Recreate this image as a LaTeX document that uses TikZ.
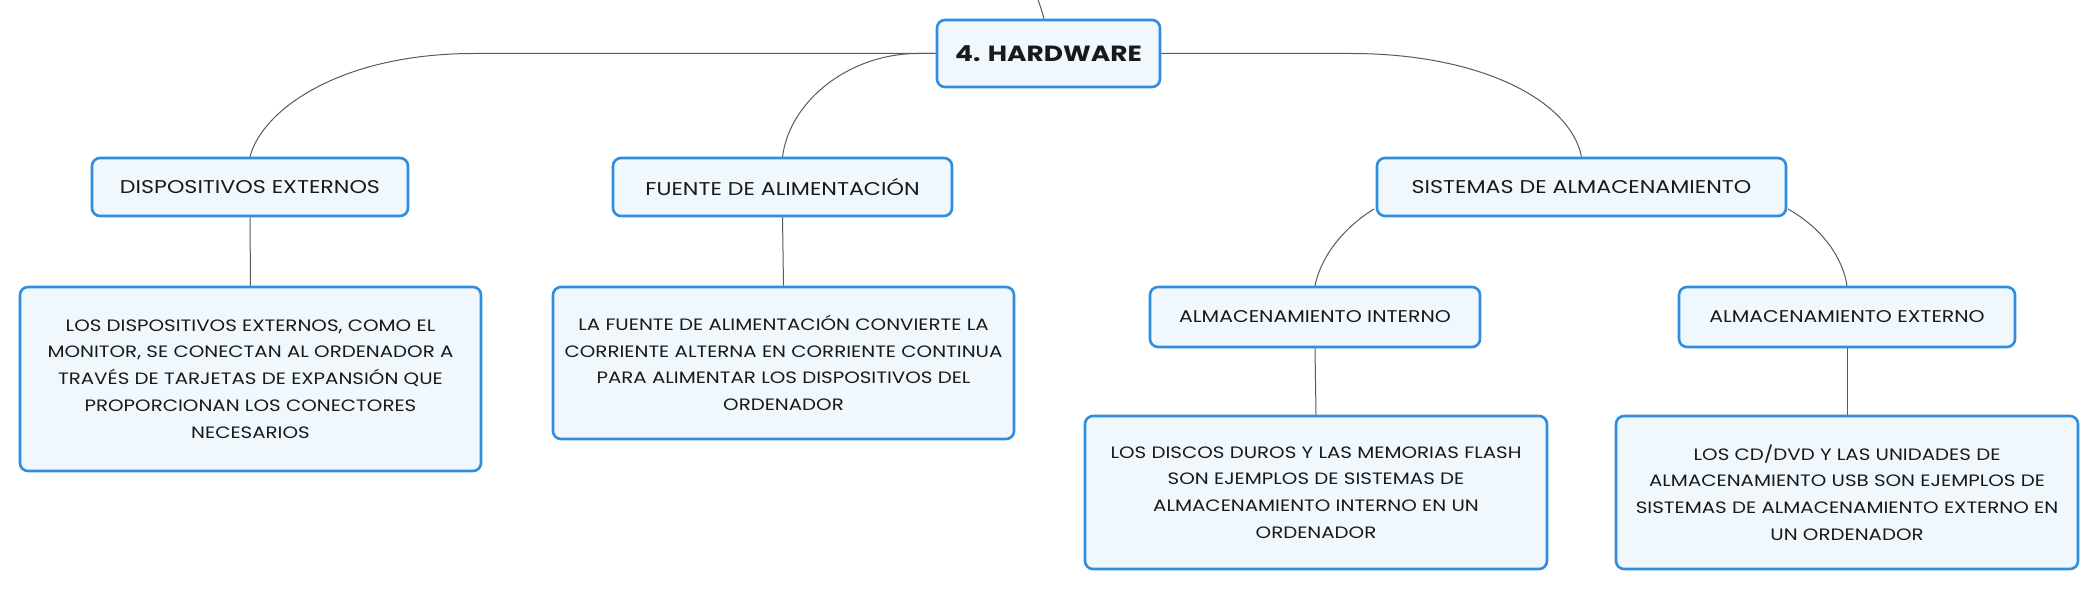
\documentclass[tikz,border=0pt]{standalone}
\usepackage{fontspec}
\setmainfont{Poppins}[FakeStretch=1.2]
\definecolor{bord}{HTML}{2F8EDD}
\definecolor{fillc}{HTML}{F0F8FE}
\definecolor{lnc}{HTML}{5A5A5A}
\begin{document}
\begin{tikzpicture}[x=1pt,y=-1pt,
  box/.style={draw=bord,fill=fillc,line width=2.6pt,rounded corners=8pt,inner sep=0pt,align=center,text=black!90},
  conn/.style={draw=lnc,line width=1pt}]
\useasboundingbox (0,0) rectangle (2100,591);
\fill[white] (0,0) rectangle (2100,591);
% root
\node[box,minimum width=223pt,minimum height=67pt,font=\fontsize{22}{26}\selectfont\bfseries] (hw) at (1048.5,53.5) {4. HARDWARE};
\coordinate (top) at (1038,0);
% level 1
\node[box,minimum width=316pt,minimum height=58pt,font=\fontsize{18.5}{22}\selectfont] (de) at (250,187) {DISPOSITIVOS EXTERNOS};
\node[box,minimum width=339pt,minimum height=58pt,font=\fontsize{18.5}{22}\selectfont] (fa) at (782.5,187) {FUENTE DE ALIMENTACIÓN};
\node[box,minimum width=409pt,minimum height=58pt,font=\fontsize{18.5}{22}\selectfont] (sa) at (1581.5,187) {SISTEMAS DE ALMACENAMIENTO};
% descriptions
\node[box,minimum width=461pt,minimum height=184pt,font=\fontsize{16.5}{26.8}\selectfont] (d1) at (250.5,379) {LOS DISPOSITIVOS EXTERNOS, COMO EL\\MONITOR, SE CONECTAN AL ORDENADOR A\\TRAVÉS DE TARJETAS DE EXPANSIÓN QUE\\PROPORCIONAN LOS CONECTORES\\NECESARIOS};
\node[box,minimum width=461pt,minimum height=152pt,font=\fontsize{16.5}{26.8}\selectfont] (d2) at (783.5,363) {LA FUENTE DE ALIMENTACIÓN CONVIERTE LA\\CORRIENTE ALTERNA EN CORRIENTE CONTINUA\\PARA ALIMENTAR LOS DISPOSITIVOS DEL\\ORDENADOR};
% level 2
\node[box,minimum width=330pt,minimum height=60pt,font=\fontsize{17}{20}\selectfont] (ai) at (1315,317) {ALMACENAMIENTO INTERNO};
\node[box,minimum width=336pt,minimum height=60pt,font=\fontsize{17}{20}\selectfont] (ae) at (1847,317) {ALMACENAMIENTO EXTERNO};
\node[box,minimum width=462pt,minimum height=153pt,font=\fontsize{16.5}{26.8}\selectfont] (d3) at (1316,492.5) {LOS DISCOS DUROS Y LAS MEMORIAS FLASH\\SON EJEMPLOS DE SISTEMAS DE\\ALMACENAMIENTO INTERNO EN UN\\ORDENADOR};
\node[box,minimum width=462pt,minimum height=153pt,font=\fontsize{16.5}{26.8}\selectfont] (d4) at (1847,492.5) {LOS CD/DVD Y LAS UNIDADES DE\\ALMACENAMIENTO USB SON EJEMPLOS DE\\SISTEMAS DE ALMACENAMIENTO EXTERNO EN\\UN ORDENADOR};
% connectors
\draw[conn] (top) .. controls (1041,8) .. (hw.north west -| 1044,0);
\draw[conn] (hw.west) -- (474,53.5) .. controls (340,53.5) and (262,110) .. (de.north);
\draw[conn] (hw.west) -- (918,53.5) .. controls (850,53.5) and (790,100) .. (fa.north);
\draw[conn] (hw.east) -- (1351,53.5) .. controls (1480,53.5) and (1570,100) .. (sa.north);
\draw[conn] (de.south) -- (d1.north);
\draw[conn] (fa.south) -- (d2.north);
\draw[conn] (1374,209) .. controls (1340,230) and (1320,260) .. (ai.north);
\draw[conn] (1788,209) .. controls (1825,230) and (1843,260) .. (ae.north);
\draw[conn] (ai.south) -- (d3.north);
\draw[conn] (ae.south) -- (d4.north);
\end{tikzpicture}
\end{document}
